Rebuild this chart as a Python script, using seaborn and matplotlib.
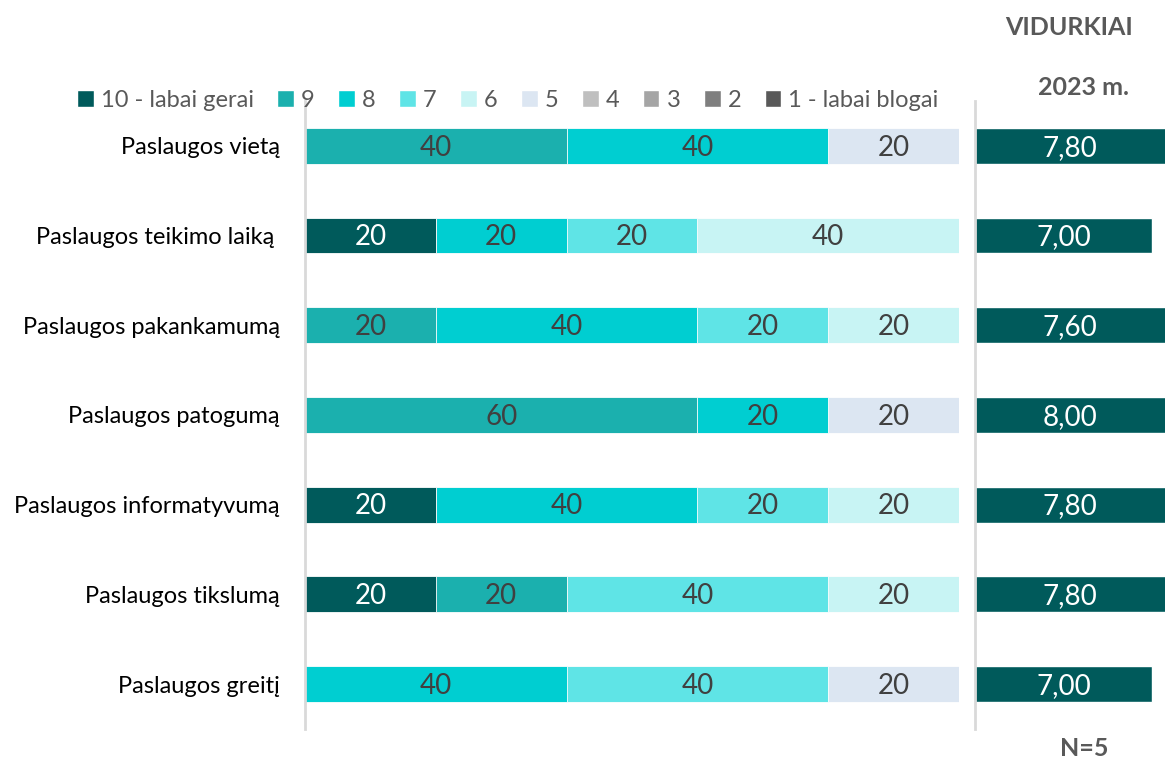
import matplotlib
matplotlib.use("Agg")
import numpy as np
import pandas as pd
from matplotlib import pyplot as plt
from matplotlib.patches import Patch
import seaborn as sns

categories = ["Paslaugos vietą", "Paslaugos teikimo laiką ", "Paslaugos pakankamumą",
              "Paslaugos patogumą", "Paslaugos informatyvumą", "Paslaugos tikslumą",
              "Paslaugos greitį"]
series_names = ["10 - labai gerai", "9", "8", "7", "6", "5", "4", "3", "2", "1 - labai blogai"]
colors = ["#005A5B", "#1BB0AE", "#00CED1", "#5FE4E6", "#C8F4F4", "#DCE6F2",
          "#BFBFBF", "#A5A5A5", "#7F7F7F", "#595959"]

s10 = [0, 20, 0, 0, 20, 20, 0]
s9 = [40, 0, 20, 60, 0, 20, 0]
s8 = [40, 20, 40, 20, 40, 0, 40]
s7 = [0, 20, 20, 0, 20, 40, 40]
s6 = [0, 40, 20, 0, 20, 20, 0]
s5 = [20, 0, 0, 20, 0, 0, 20]
s4 = [0, 0, 0, 0, 0, 0, 0]
s3 = [0, 0, 0, 0, 0, 0, 0]
s2 = [0, 0, 0, 0, 0, 0, 0]
s1 = [0, 0, 0, 0, 0, 0, 0]
averages = [7.80, 7.00, 7.60, 8.00, 7.80, 7.80, 7.00]

sns.set_style("white")
plt.rcParams['font.family'] = ['Lato', 'DejaVu Sans']

df = pd.DataFrame(np.array([s10, s9, s8, s7, s6, s5, s4, s3, s2, s1]).T,
                  index=categories, columns=series_names)
cum = df.cumsum(axis=1)

fig = plt.figure(figsize=(11.65, 7.58), dpi=100)
ax = fig.add_axes([0.2618, 0.0383, 0.5614, 0.8285])
ax2 = fig.add_axes([0.8369, 0.0383, 0.1631, 0.8285])

# stacked bars: draw cumulative totals from the widest down
for name, col in reversed(list(zip(series_names, colors))):
    sns.barplot(x=cum[name].values, y=categories, color=col, saturation=1,
                orient="h", width=0.4, ax=ax, edgecolor="white", linewidth=0.6)

for j, name in enumerate(series_names):
    for i, cat in enumerate(categories):
        v = df.loc[cat, name]
        if v > 0:
            ax.text(cum.loc[cat, name] - v / 2, i + 0.02, f"{v:.0f}", ha="center", va="center",
                    fontsize=20, color="white" if j == 0 else "#404040")

ax.set_xlim(0, 100)
ax.set_ylim(6.5, -0.5)
ax.set_xlabel("")
ax.set_ylabel("")
ax.set_xticks([])
ax.tick_params(axis="y", length=0, pad=18, labelsize=17, labelcolor="#000000")
for sp in ["top", "right", "bottom"]:
    ax.spines[sp].set_visible(False)
ax.spines["left"].set_color("#D9D9D9")
ax.spines["left"].set_linewidth(2)

sns.barplot(x=averages, y=categories, color="#005A5B", saturation=1, orient="h",
            width=0.4, ax=ax2)
xmax = 7.52
ax2.set_xlim(0, xmax)
ax2.set_ylim(6.5, -0.5)
for i, v in enumerate(averages):
    ax2.text(min(v, xmax) / 2, i + 0.02, f"{v:.2f}".replace(".", ","), ha="center", va="center",
             fontsize=20, color="white")
ax2.set_xlabel("")
ax2.set_ylabel("")
ax2.set_xticks([])
ax2.set_yticks([])
for sp in ["top", "right", "bottom"]:
    ax2.spines[sp].set_visible(False)
ax2.spines["left"].set_color("#D9D9D9")
ax2.spines["left"].set_linewidth(2)

handles = [Patch(facecolor=c) for c in colors]
fig.legend(handles, series_names, loc="center", bbox_to_anchor=(0.436, 0.868), ncol=10,
           frameon=False, fontsize=17, handlelength=0.7, handleheight=0.7,
           columnspacing=1.0, handletextpad=0.3, labelcolor="#595959")

fig.text(0.918, 0.964, "VIDURKIAI", ha="center", va="center", fontsize=18,
         fontweight="bold", color="#595959")
fig.text(0.93, 0.884, "2023 m.", ha="center", va="center", fontsize=18,
         fontweight="bold", color="#595959")
fig.text(0.931, 0.013, "N=5", ha="center", va="center", fontsize=18,
         fontweight="bold", color="#595959")

fig.savefig("out.png", dpi=100)
